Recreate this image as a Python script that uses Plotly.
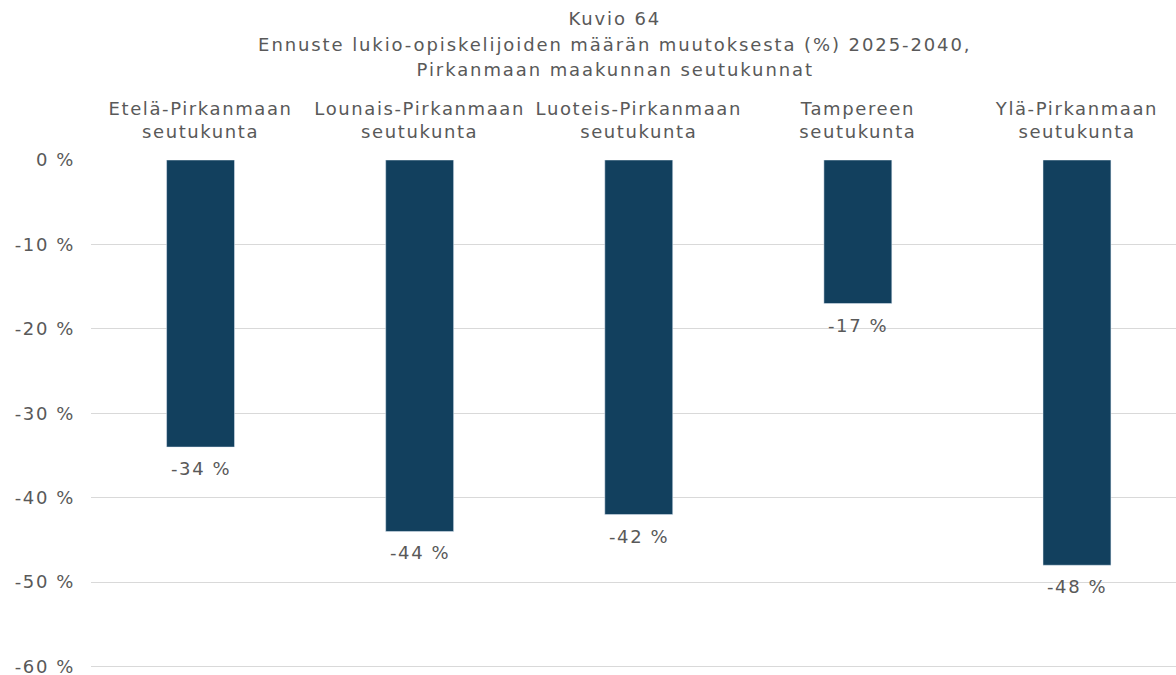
import plotly.graph_objects as go

categories = ["Etelä-Pirkanmaan<br>seutukunta", "Lounais-Pirkanmaan<br>seutukunta",
              "Luoteis-Pirkanmaan<br>seutukunta", "Tampereen<br>seutukunta",
              "Ylä-Pirkanmaan<br>seutukunta"]
values = [-34, -44, -42, -17, -48]
tick_vals = [0, -10, -20, -30, -40, -50, -60]
tick_text = ["0 %", "-10 %", "-20 %", "-30 %", "-40 %", "-50 %", "-60 %"]
title_lines = ["Kuvio 64",
               "Ennuste lukio-opiskelijoiden määrän muutoksesta (%) 2025-2040,",
               "Pirkanmaan maakunnan seutukunnat"]

FONT = "DejaVu Sans"
TXT = "#595959"

fig = go.Figure(go.Bar(x=list(range(len(categories))), y=values, marker_color="#12405e",
                       width=0.31, hoverinfo="skip"))

for i, v in enumerate(values):
    fig.add_annotation(x=i, y=v, text=f"{v} %", showarrow=False, yanchor="top", yshift=-9,
                       font=dict(family=FONT, size=18, color=TXT))

for line, shift in zip(title_lines, [142, 116, 91]):
    fig.add_annotation(xref="paper", yref="paper", x=(615 - 91) / (1176 - 91), y=1,
                       xanchor="center", yanchor="middle", yshift=shift, showarrow=False,
                       text=line, font=dict(family=FONT, size=18, color=TXT))

fig.update_layout(
    width=1176, height=685,
    margin=dict(l=91, r=0, t=160, b=10),
    paper_bgcolor="white", plot_bgcolor="white",
    showlegend=False,
    xaxis=dict(side="top", tickmode="array", tickvals=list(range(len(categories))),
               ticktext=categories, range=[-0.5, 4.452], showgrid=False, zeroline=False,
               showline=False, ticks="", ticklabelstandoff=17,
               tickfont=dict(family=FONT, size=18, color=TXT)),
    yaxis=dict(range=[-61, 0], tickmode="array", tickvals=tick_vals, ticktext=tick_text,
               showgrid=True, gridcolor="#d9d9d9", gridwidth=1, zeroline=False,
               ticks="", ticklabelstandoff=15,
               tickfont=dict(family=FONT, size=18, color=TXT)),
)

post = """
document.body.style.margin='0';
document.body.style.overflow='hidden';
document.documentElement.style.overflow='hidden';
var gd = document.getElementById('{plot_id}');
gd.querySelectorAll('svg text').forEach(function(t){ t.style.letterSpacing='1.6px'; });
gd.querySelectorAll('.annotation-text').forEach(function(t){
  if (t.textContent.indexOf('Ennuste') === 0 || t.textContent.indexOf('Pirkanmaan maakunnan') === 0 || t.textContent.indexOf('Kuvio') === 0) {
    t.style.letterSpacing='1.9px';
  }
});
"""
fig.write_html("out.html", post_script=post, config={"displayModeBar": False})
